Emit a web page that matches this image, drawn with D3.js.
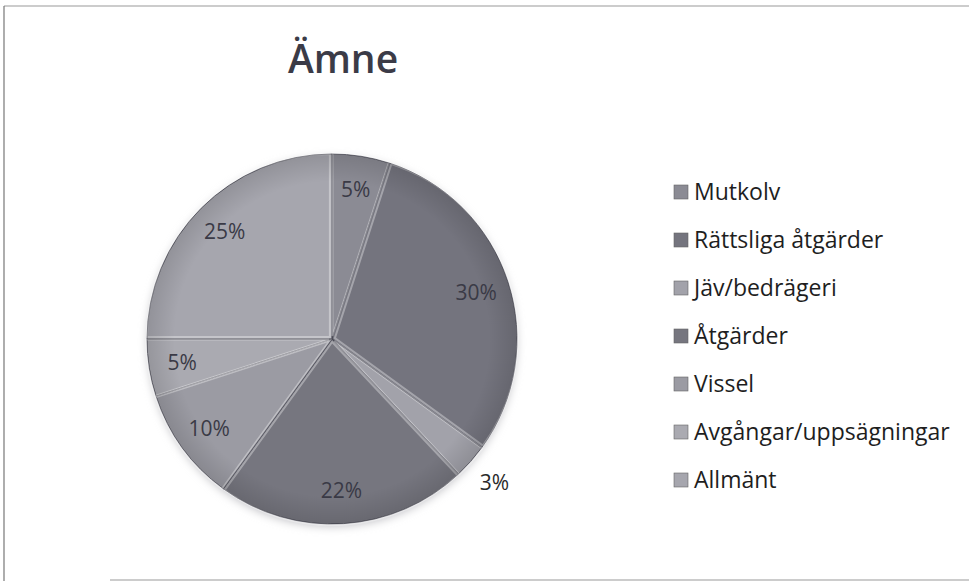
<!DOCTYPE html>
<html>
<head>
<meta charset="utf-8">
<script src="https://cdn.jsdelivr.net/npm/d3@7"></script>
<style>
  body { margin: 0; background: #fff; }
  svg { display: block; }
  text { font-family: "Open Sans", Lato, sans-serif; }
</style>
</head>
<body>
<svg id="chart" width="969" height="583"></svg>
<script>
// data (clockwise from 12 o'clock)
var categories = ["Mutkolv", "Rättsliga åtgärder", "Jäv/bedrägeri", "Åtgärder", "Vissel", "Avgångar/uppsägningar", "Allmänt"];
var shares = [5, 30, 3, 22, 10, 5, 25];
var fills = ["#8b8b94", "#74747e", "#a2a2aa", "#76767f", "#9b9ba3", "#aaaab1", "#a6a6ae"];

var svg = d3.select("#chart");

// frame of the scanned page
svg.append("line").attr("x1", 4).attr("y1", 6).attr("x2", 969).attr("y2", 6)
  .attr("stroke", "#9a9a9a").attr("stroke-width", 1.2);
svg.append("line").attr("x1", 4).attr("y1", 6).attr("x2", 4).attr("y2", 581)
  .attr("stroke", "#777").attr("stroke-width", 1.2);
svg.append("line").attr("x1", 110).attr("y1", 580).attr("x2", 969).attr("y2", 580)
  .attr("stroke", "#9a9a9a").attr("stroke-width", 1.2);

svg.append("text")
  .attr("x", 343).attr("y", 73)
  .attr("text-anchor", "middle")
  .attr("font-size", 39).attr("font-weight", 600)
  .attr("fill", "#3b3b47")
  .text("Ämne");

var cx = 332, cy = 339, R = 185;

var defs = svg.append("defs");
var blur = defs.append("filter").attr("id", "shadow").attr("x", "-20%").attr("y", "-20%").attr("width", "140%").attr("height", "140%");
blur.append("feGaussianBlur").attr("stdDeviation", 4);
var shade = defs.append("radialGradient").attr("id", "shade")
  .attr("cx", "50%").attr("cy", "50%").attr("r", "50%");
shade.append("stop").attr("offset", "0.85").attr("stop-color", "#000").attr("stop-opacity", 0);
shade.append("stop").attr("offset", "1").attr("stop-color", "#000").attr("stop-opacity", 0.12);

var color = d3.scaleOrdinal().domain(categories).range(fills);
var pie = d3.pie().sort(null).value(function(d, i) { return shares[i]; });
var arcs = pie(categories);
var arc = d3.arc().innerRadius(0).outerRadius(R);
var labelArc = d3.arc().innerRadius(R * 0.82).outerRadius(R * 0.82);
var outerArc = d3.arc().innerRadius(R * 1.17).outerRadius(R * 1.17);

var g = svg.append("g").attr("transform", "translate(" + cx + "," + cy + ")");

g.append("circle").attr("r", R).attr("cy", 3)
  .attr("fill", "#c8c8cc").attr("filter", "url(#shadow)");

g.selectAll("path.slice")
  .data(arcs)
  .enter().append("path")
  .attr("class", "slice")
  .attr("d", arc)
  .attr("fill", function(d) { return color(d.data); })
  .attr("stroke", "#4a4a55")
  .attr("stroke-width", 1);

// light bevel along the slice edges
g.selectAll("path.bevel")
  .data(arcs)
  .enter().append("path")
  .attr("class", "bevel")
  .attr("d", d3.arc().innerRadius(0).outerRadius(R - 2))
  .attr("fill", "none")
  .attr("stroke", "#fff")
  .attr("stroke-opacity", 0.35)
  .attr("stroke-width", 2)
  .attr("transform", function(d) {
    var c = d3.arc().innerRadius(0).outerRadius(6).centroid(d);
    return "translate(" + c[0] + "," + c[1] + ")";
  });

g.append("circle").attr("r", R).attr("fill", "url(#shade)");

g.selectAll("text.pct")
  .data(arcs)
  .enter().append("text")
  .attr("class", "pct")
  .attr("transform", function(d) {
    var p = (d.data === "Jäv/bedrägeri" ? outerArc : labelArc).centroid(d);
    return "translate(" + p[0] + "," + p[1] + ")";
  })
  .attr("dy", "0.36em")
  .attr("text-anchor", "middle")
  .attr("font-size", 21)
  .attr("fill", function(d) { return d.data === "Jäv/bedrägeri" ? "#2a2a2a" : "#3a3a46"; })
  .text(function(d, i) { return shares[i] + "%"; });

// legend
var legendY = d3.scalePoint().domain(categories).range([192, 480]);
var legend = svg.append("g").selectAll("g")
  .data(categories)
  .enter().append("g")
  .attr("transform", function(d) { return "translate(674," + legendY(d) + ")"; });

legend.append("rect")
  .attr("x", 0).attr("y", -7).attr("width", 14).attr("height", 14)
  .attr("fill", function(d) { return color(d); })
  .attr("stroke", "#666").attr("stroke-width", 0.6);

legend.append("text")
  .attr("x", 20).attr("dy", "0.36em")
  .attr("font-size", 23)
  .attr("fill", "#1e1e1e")
  .text(function(d) { return d; });
</script>
</body>
</html>
